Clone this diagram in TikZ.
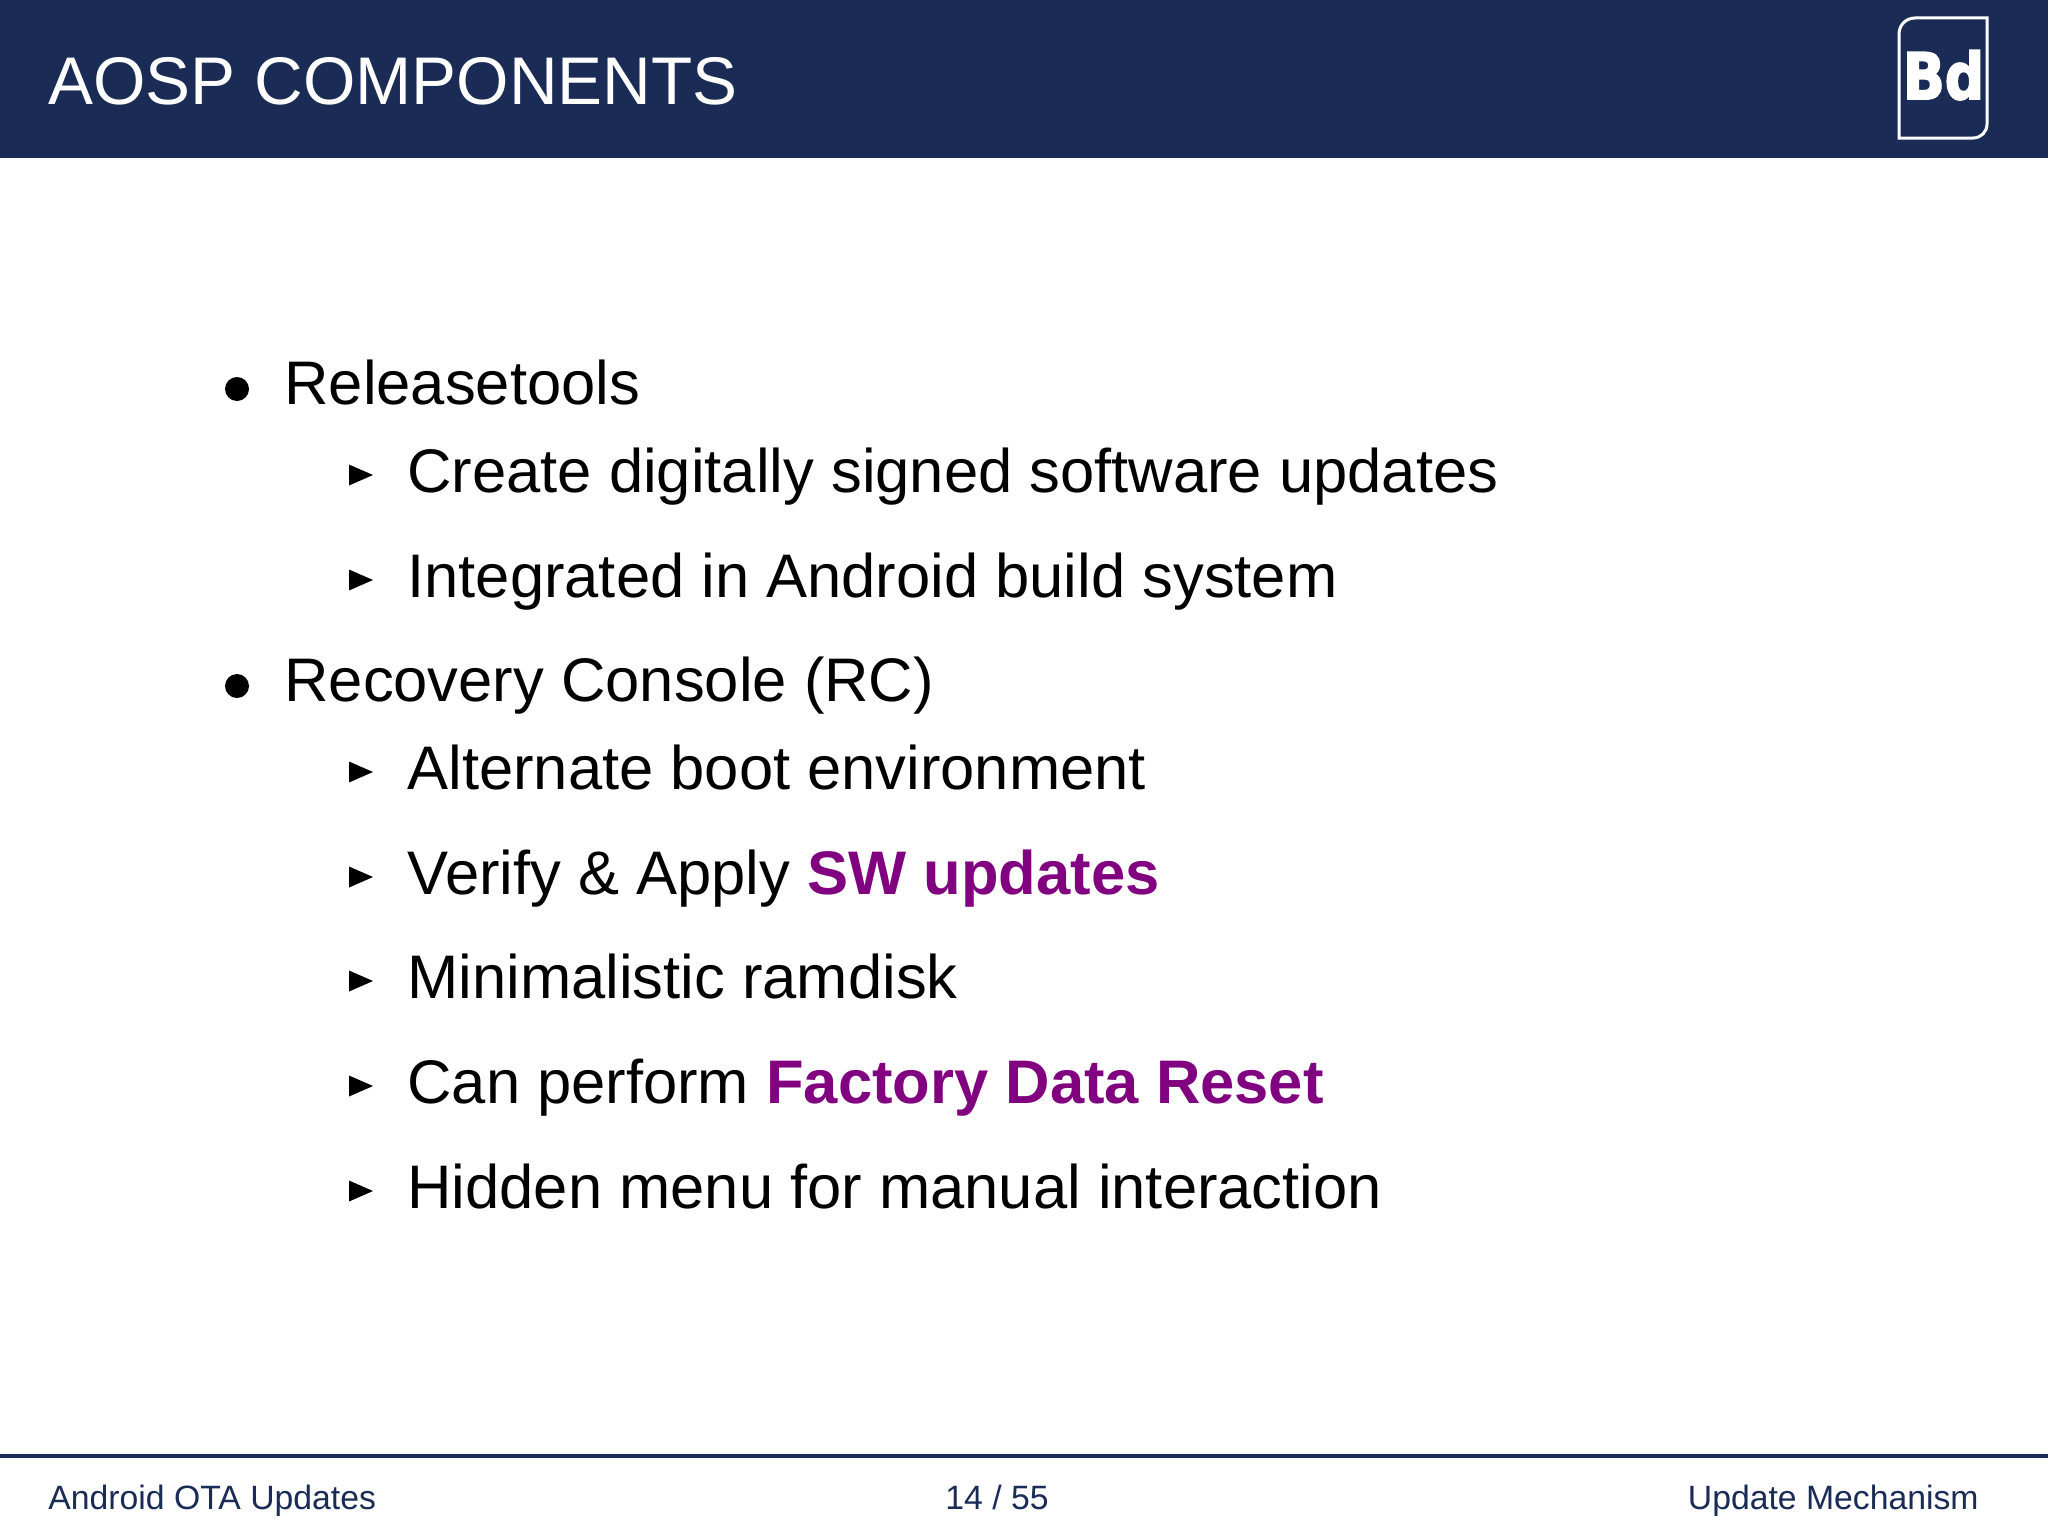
\documentclass[tikz,border=0pt]{standalone}
\usepackage{fontspec}
\setmainfont{Liberation Sans}
\newfontfamily\logofont[BoldFont={DejaVu Sans Bold},BoldFeatures={FakeBold=3}]{DejaVu Sans}
\definecolor{navy}{HTML}{1A2B56}
\definecolor{hl}{HTML}{800080}
\tikzset{
  title/.style={anchor=base west,inner sep=0pt,text=white,font=\fontsize{33.7}{40}\selectfont},
  lone/.style={anchor=base west,inner sep=0pt,text=black,font=\fontsize{30.76}{36}\selectfont},
  foot/.style={inner sep=0pt,text=navy,font=\fontsize{16.87}{20}\selectfont},
  tri/.style={fill=black,draw=none}
}
\newcommand{\hlt}[1]{\textcolor{hl}{\textbf{#1}}}
\newcommand{\triat}[1]{\fill[tri] (349,#1-10.5) -- (373,#1) -- (349,#1+10.5) -- cycle;}
\begin{document}
\begin{tikzpicture}[x=0.5pt,y=-0.5pt]
\useasboundingbox (0,0) rectangle (2048,1536);
\fill[white] (0,0) rectangle (2048,1536);
\fill[navy] (0,0) rectangle (2048,158);
\node[title] (t) at (48,104.5) {AOSP COMPONENTS};
% logo
\draw[white,line width=1.5pt]
  (1987,18) -- (1987,124) .. controls (1987,132) and (1981,138) .. (1973,138) -- (1899,138) -- (1899,34) .. controls (1899,25) and (1906,18) .. (1915,18) -- cycle;
\node[anchor=base,inner sep=0pt,text=white,font=\logofont\bfseries\fontsize{32}{32}\selectfont,xscale=0.86] (logo) at (1943.5,99) {Bd};
% items
\fill (237,389) circle[radius=12];
\node[lone] (a) at (284,404) {Releasetools};
\triat{475}
\node[lone] (a1) at (407,492) {Create digitally signed software updates};
\triat{580}
\node[lone] (a2) at (407,597) {Integrated in Android build system};
\fill (237,686) circle[radius=12];
\node[lone] (b) at (284,701) {Recovery Console (RC)};
\triat{772}
\node[lone] (b1) at (407,789) {Alternate boot environment};
\triat{877}
\node[lone] (b2) at (407,894) {Verify \& Apply \hlt{SW updates}};
\triat{981}
\node[lone] (b3) at (407,998) {Minimalistic ramdisk};
\triat{1086}
\node[lone] (b4) at (407,1103) {Can perform \hlt{Factory Data Reset}};
\triat{1191}
\node[lone] (b5) at (407,1208) {Hidden menu for manual interaction};
% footer
\fill[navy] (0,1453.5) rectangle (2048,1457.5);
\node[foot,anchor=base west] (f1) at (48,1509) {Android OTA Updates};
\node[foot,anchor=base] (f2) at (997,1509) {14 / 55};
\node[foot,anchor=base east] (f3) at (1979,1509) {Update Mechanism};
\end{tikzpicture}
\end{document}
